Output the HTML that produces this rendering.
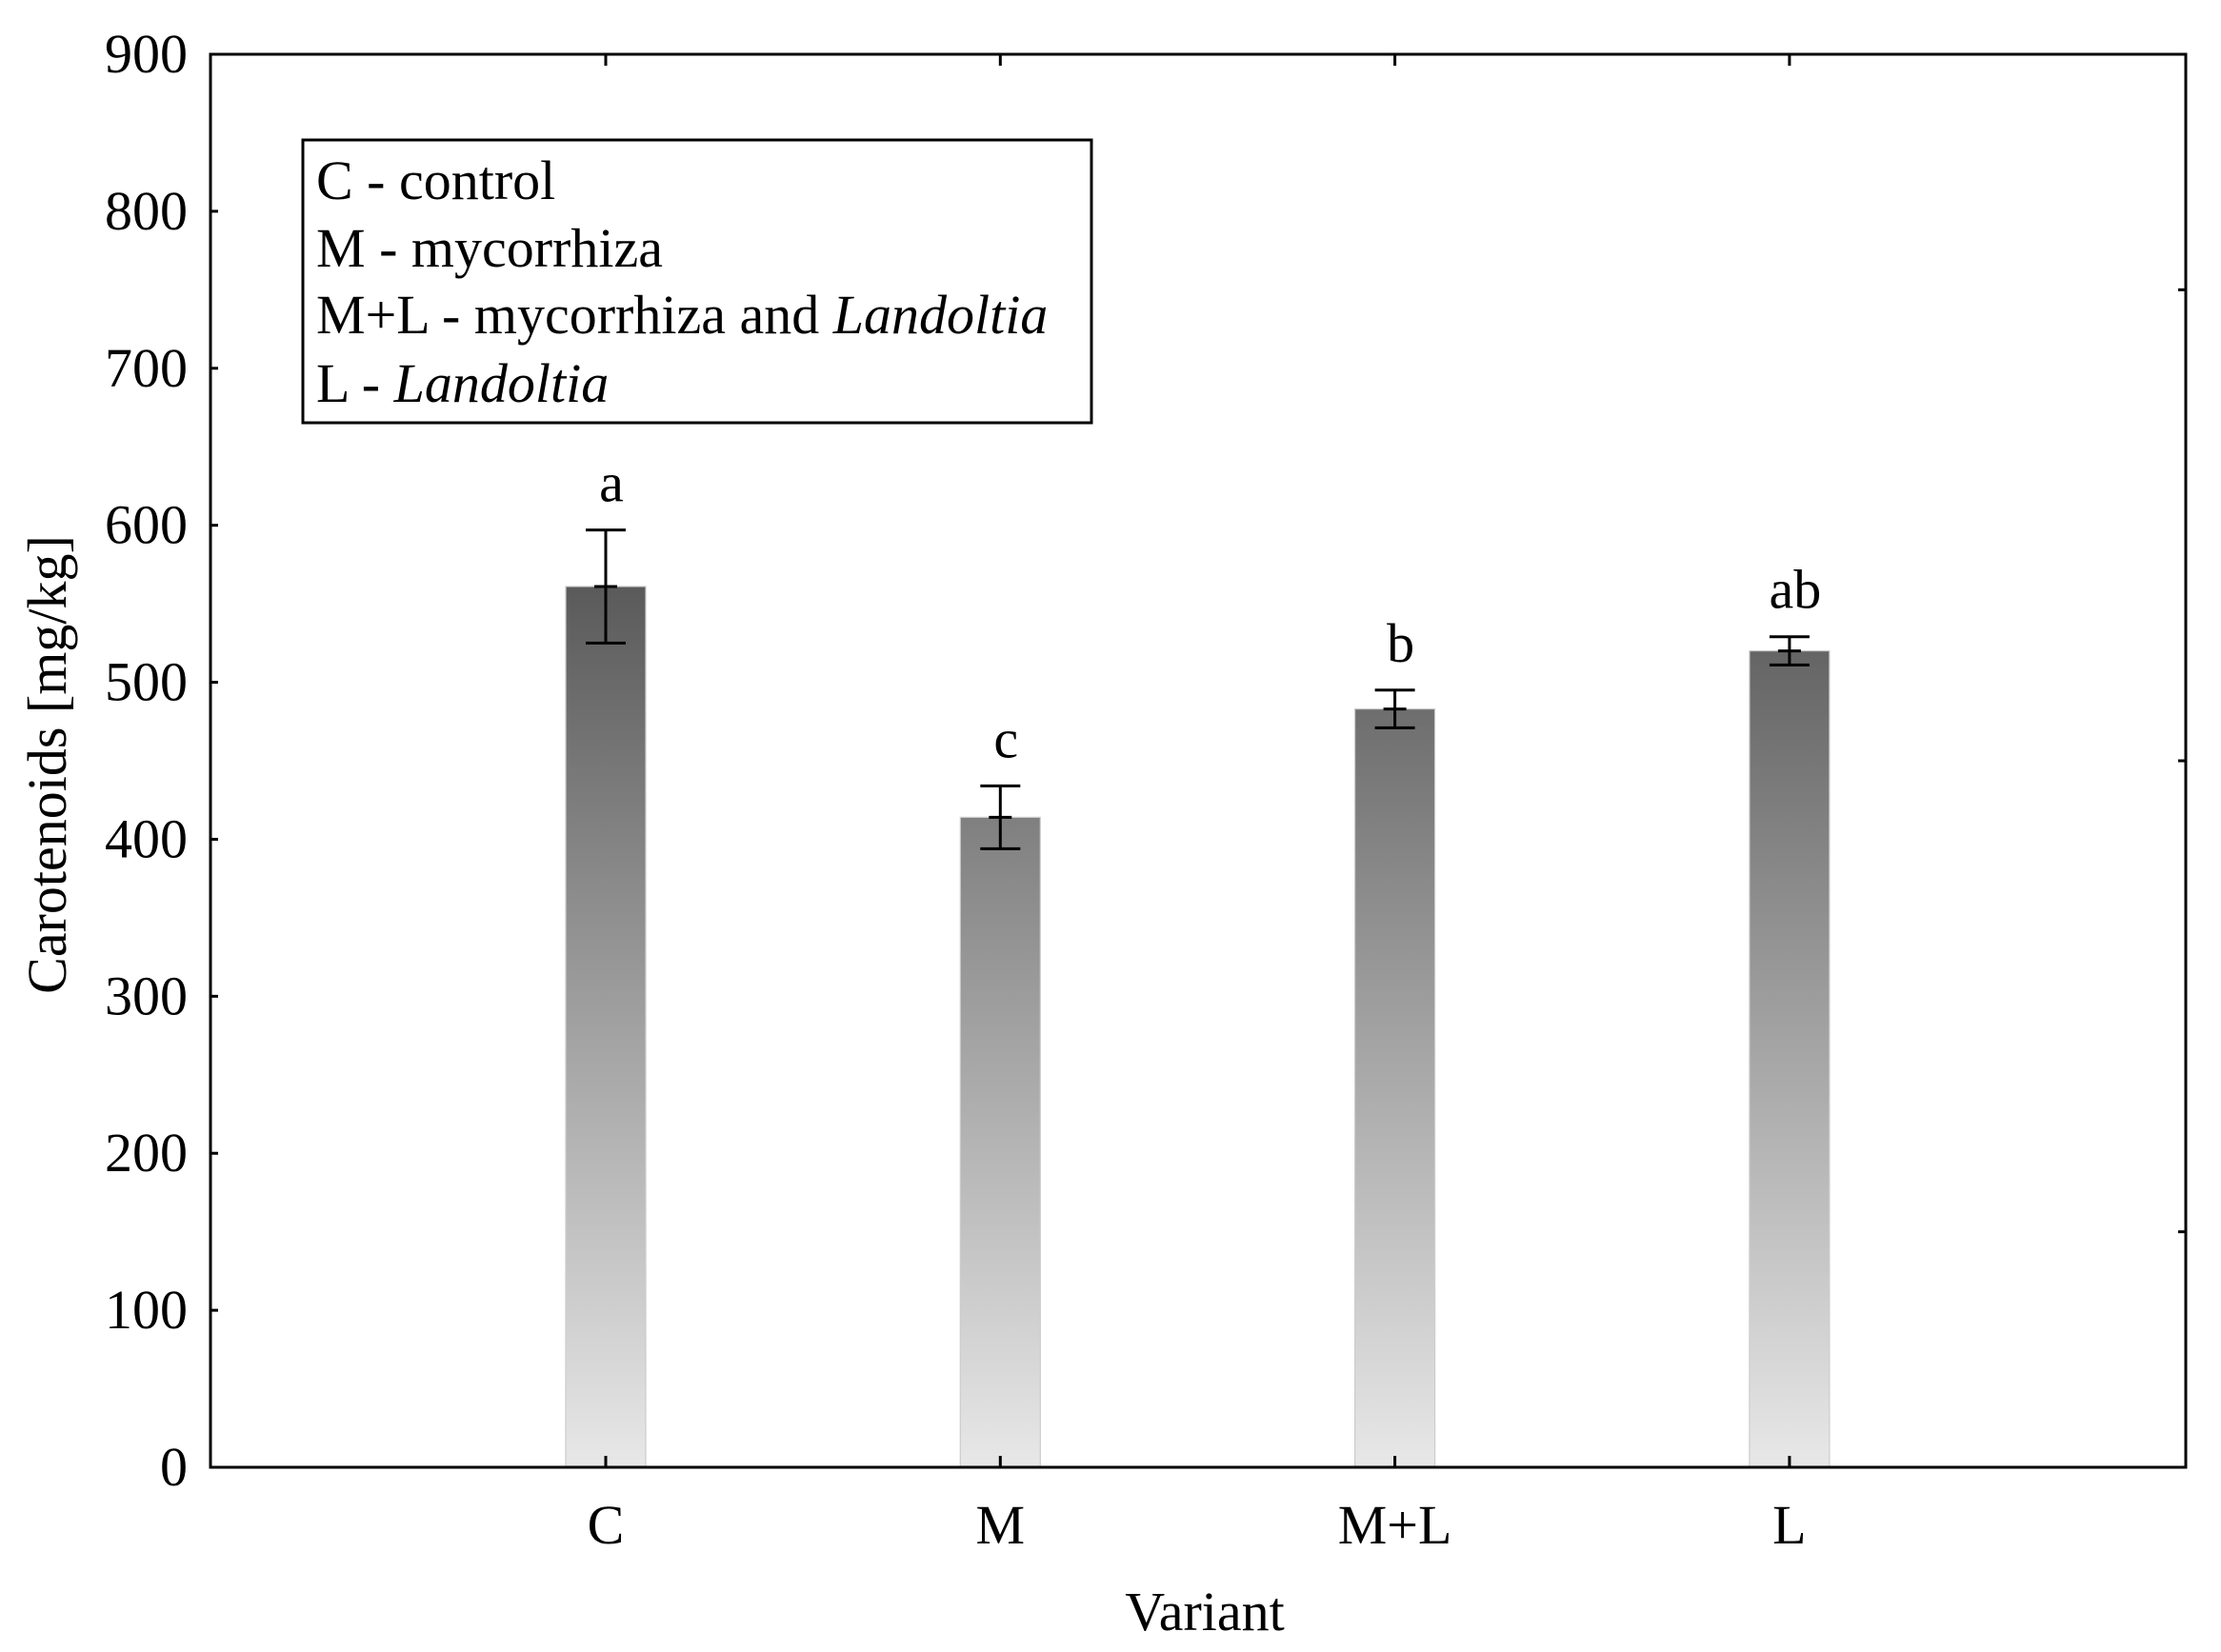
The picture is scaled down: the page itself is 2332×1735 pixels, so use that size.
<!DOCTYPE html>
<html><head><meta charset="utf-8"><style>
html,body{margin:0;padding:0;background:#fff;}
svg{display:block;font-family:"Liberation Serif",serif;}
</style></head><body>
<svg id="chart" width="2332" height="1735" viewBox="0 0 2332 1735">
<defs>
<linearGradient id="barGrad" gradientUnits="userSpaceOnUse" x1="0" y1="615" x2="0" y2="1541">
<stop offset="0" stop-color="#5a5a5a"/><stop offset="1" stop-color="#e8e8e8"/>
</linearGradient>
</defs>
<g id="bars"></g>
<rect x="221" y="57" width="2074" height="1484" fill="none" stroke="#000" stroke-width="3"/>
<g id="axes"></g>
<g>
<rect x="318" y="147" width="828" height="297" fill="#fff" stroke="#000" stroke-width="3"/>
<text x="332" y="209" font-size="58">C - control</text>
<text x="332" y="280" font-size="58">M - mycorrhiza</text>
<text x="332" y="350" font-size="58">M+L - mycorrhiza and <tspan font-style="italic">Landoltia</tspan></text>
<text x="332" y="422" font-size="58">L - <tspan font-style="italic">Landoltia</tspan></text>
</g>
<text x="0" y="0" font-size="58" text-anchor="middle" transform="translate(69,803) rotate(-90)">Carotenoids [mg/kg]</text>
<text x="1265" y="1712" font-size="58" text-anchor="middle">Variant</text>
</svg>
<script>
const categories = ["C", "M", "M+L", "L"];
const values = [561, 414, 483, 520];
const errors = [36, 20, 12, 9];
const letters = ["a", "c", "b", "ab"];
const yTicks = [0, 100, 200, 300, 400, 500, 600, 700, 800, 900];
const rightTicks = [150, 450, 750];

const NS = "http://www.w3.org/2000/svg";
const plotLeft = 221, plotRight = 2295, plotTop = 57, plotBottom = 1541;
function yScale(v) { return plotBottom - (v / 900) * (plotBottom - plotTop); }
function xScale(i) { return 636 + i * 414.3; }
function mk(tag, attrs, parent) {
  const e = document.createElementNS(NS, tag);
  for (const k in attrs) e.setAttribute(k, attrs[k]);
  parent.appendChild(e);
  return e;
}
const barsG = document.getElementById("bars");
const axesG = document.getElementById("axes");
const bw = 84;
categories.forEach((c, i) => {
  const cx = xScale(i);
  const r = mk("rect", {x: cx - bw/2, y: yScale(values[i]), width: bw, height: plotBottom - yScale(values[i]), fill: "url(#barGrad)", stroke: "#ccc", "stroke-width": 1.2}, barsG);
  
  
  const g = mk("g", {stroke: "#000", "stroke-width": 3}, barsG);
  
  
  const hi = yScale(values[i] + errors[i]), lo = yScale(values[i] - errors[i]), mid = yScale(values[i]);
  mk("line", {x1: cx, x2: cx, y1: hi, y2: lo}, g);
  mk("line", {x1: cx - 21, x2: cx + 21, y1: hi, y2: hi}, g);
  mk("line", {x1: cx - 21, x2: cx + 21, y1: lo, y2: lo}, g);
  mk("line", {x1: cx - 12, x2: cx + 12, y1: mid, y2: mid}, g);
  const t = mk("text", {x: cx + 6, y: hi - 30, "font-size": 58, "text-anchor": "middle"}, barsG);
  t.textContent = letters[i];
  
  
  const tl = mk("text", {x: cx, y: 1621, "font-size": 58, "text-anchor": "middle"}, axesG);
  tl.textContent = c;
  
  
  mk("line", {x1: cx, x2: cx, y1: plotBottom, y2: plotBottom - 12, stroke: "#000", "stroke-width": 3}, axesG);
  mk("line", {x1: cx, x2: cx, y1: plotTop, y2: plotTop + 12, stroke: "#000", "stroke-width": 3}, axesG);
});
yTicks.forEach(v => {
  const yy = yScale(v);
  mk("line", {x1: plotLeft, x2: plotLeft + 8, y1: yy, y2: yy, stroke: "#000", "stroke-width": 3}, axesG);
  const t = mk("text", {x: 197, y: yy + 19, "font-size": 58, "text-anchor": "end"}, axesG);
  t.textContent = v;
  
  
});
rightTicks.forEach(v => {
  const yy = yScale(v);
  mk("line", {x1: plotRight, x2: plotRight - 8, y1: yy, y2: yy, stroke: "#000", "stroke-width": 3}, axesG);
});
</script>
</body></html>
